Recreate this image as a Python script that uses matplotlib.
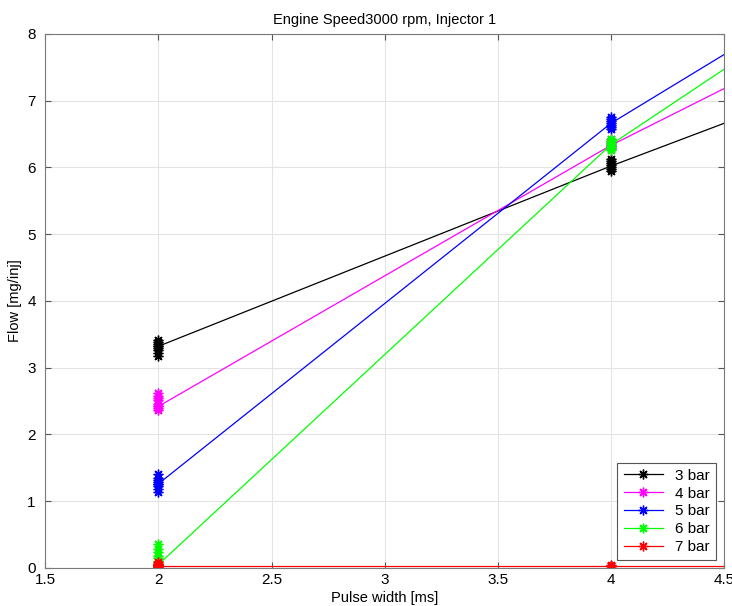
import matplotlib.pyplot as plt

plt.rcParams['font.family'] = ['Liberation Sans', 'DejaVu Sans']

labels = ["3 bar", "4 bar", "5 bar", "6 bar", "7 bar"]
colors = ["#000000", "#ff00ff", "#0000ff", "#00ff00", "#ff0000"]

# fitted line points: x = 2, 4, 4.5
line_x = [2, 4, 4.5]
line_y = [
    [3.32, 6.02, 6.66],
    [2.42, 6.33, 7.18],
    [1.26, 6.66, 7.69],
    [0.05, 6.34, 7.47],
    [0.03, 0.03, 0.03],
]

# measured samples at pulse width 2 ms and 4 ms
samples_2 = [
    [3.18, 3.22, 3.26, 3.29, 3.32, 3.35, 3.38, 3.41],
    [2.37, 2.40, 2.42, 2.45, 2.52, 2.55, 2.58, 2.62],
    [1.14, 1.18, 1.22, 1.25, 1.28, 1.31, 1.35, 1.40],
    [0.03, 0.06, 0.10, 0.14, 0.18, 0.23, 0.28, 0.35],
    [0.01, 0.02, 0.03, 0.03, 0.04, 0.05, 0.06, 0.08],
]
samples_4 = [
    [5.94, 5.98, 6.01, 6.03, 6.06, 6.09, 6.12],
    [6.27, 6.30, 6.32, 6.34, 6.36, 6.39, 6.42],
    [6.57, 6.60, 6.63, 6.66, 6.69, 6.72, 6.76],
    [6.26, 6.29, 6.32, 6.35, 6.37, 6.40, 6.43],
    [0.02, 0.03, 0.03, 0.04],
]

star = (8, 2, 0)  # asterisk like matlab '*'

fig = plt.figure(figsize=(7.32, 6.06), dpi=100)
ax = fig.add_axes([0.062, 0.063, 0.927, 0.881])

for i in range(len(labels)):
    ax.plot(line_x, line_y[i], color=colors[i], lw=0.9, marker=star,
            markevery=[0], markersize=7, mew=1, label=labels[i])
    ax.plot([2] * len(samples_2[i]), samples_2[i], ls="none", marker=star,
            color=colors[i], markersize=7, mew=1)
    ax.plot([4] * len(samples_4[i]), samples_4[i], ls="none", marker=star,
            color=colors[i], markersize=7, mew=1)

ax.set_xlim(1.5, 4.5)
ax.set_ylim(0, 8)
ax.set_xticks([1.5, 2, 2.5, 3, 3.5, 4, 4.5])
ax.set_xticklabels(["1.5", "2", "2.5", "3", "3.5", "4", "4.5"])
ax.set_yticks(range(0, 9))
ax.grid(True, color="#e4e4e4", lw=0.8)
ax.set_axisbelow(True)
ax.tick_params(direction="in", top=True, right=True, labelsize=11,
               color="#555555", length=4)
ax.tick_params(axis="y", pad=7)
for s in ax.spines.values():
    s.set_color("#7a7a7a")

ax.set_title("Engine Speed3000 rpm, Injector 1", fontsize=10.5, pad=7)
ax.set_xlabel("Pulse width [ms]", fontsize=10.5, labelpad=3)
ax.set_ylabel("Flow [mg/inj]", fontsize=10.5, labelpad=4)

leg = ax.legend(loc="lower right", fontsize=11, fancybox=False,
                edgecolor="#555555", framealpha=1, handlelength=2.6,
                borderaxespad=0.5, labelspacing=0.25, borderpad=0.4)
leg.get_frame().set_linewidth(0.8)

fig.savefig("out.png", dpi=100)
